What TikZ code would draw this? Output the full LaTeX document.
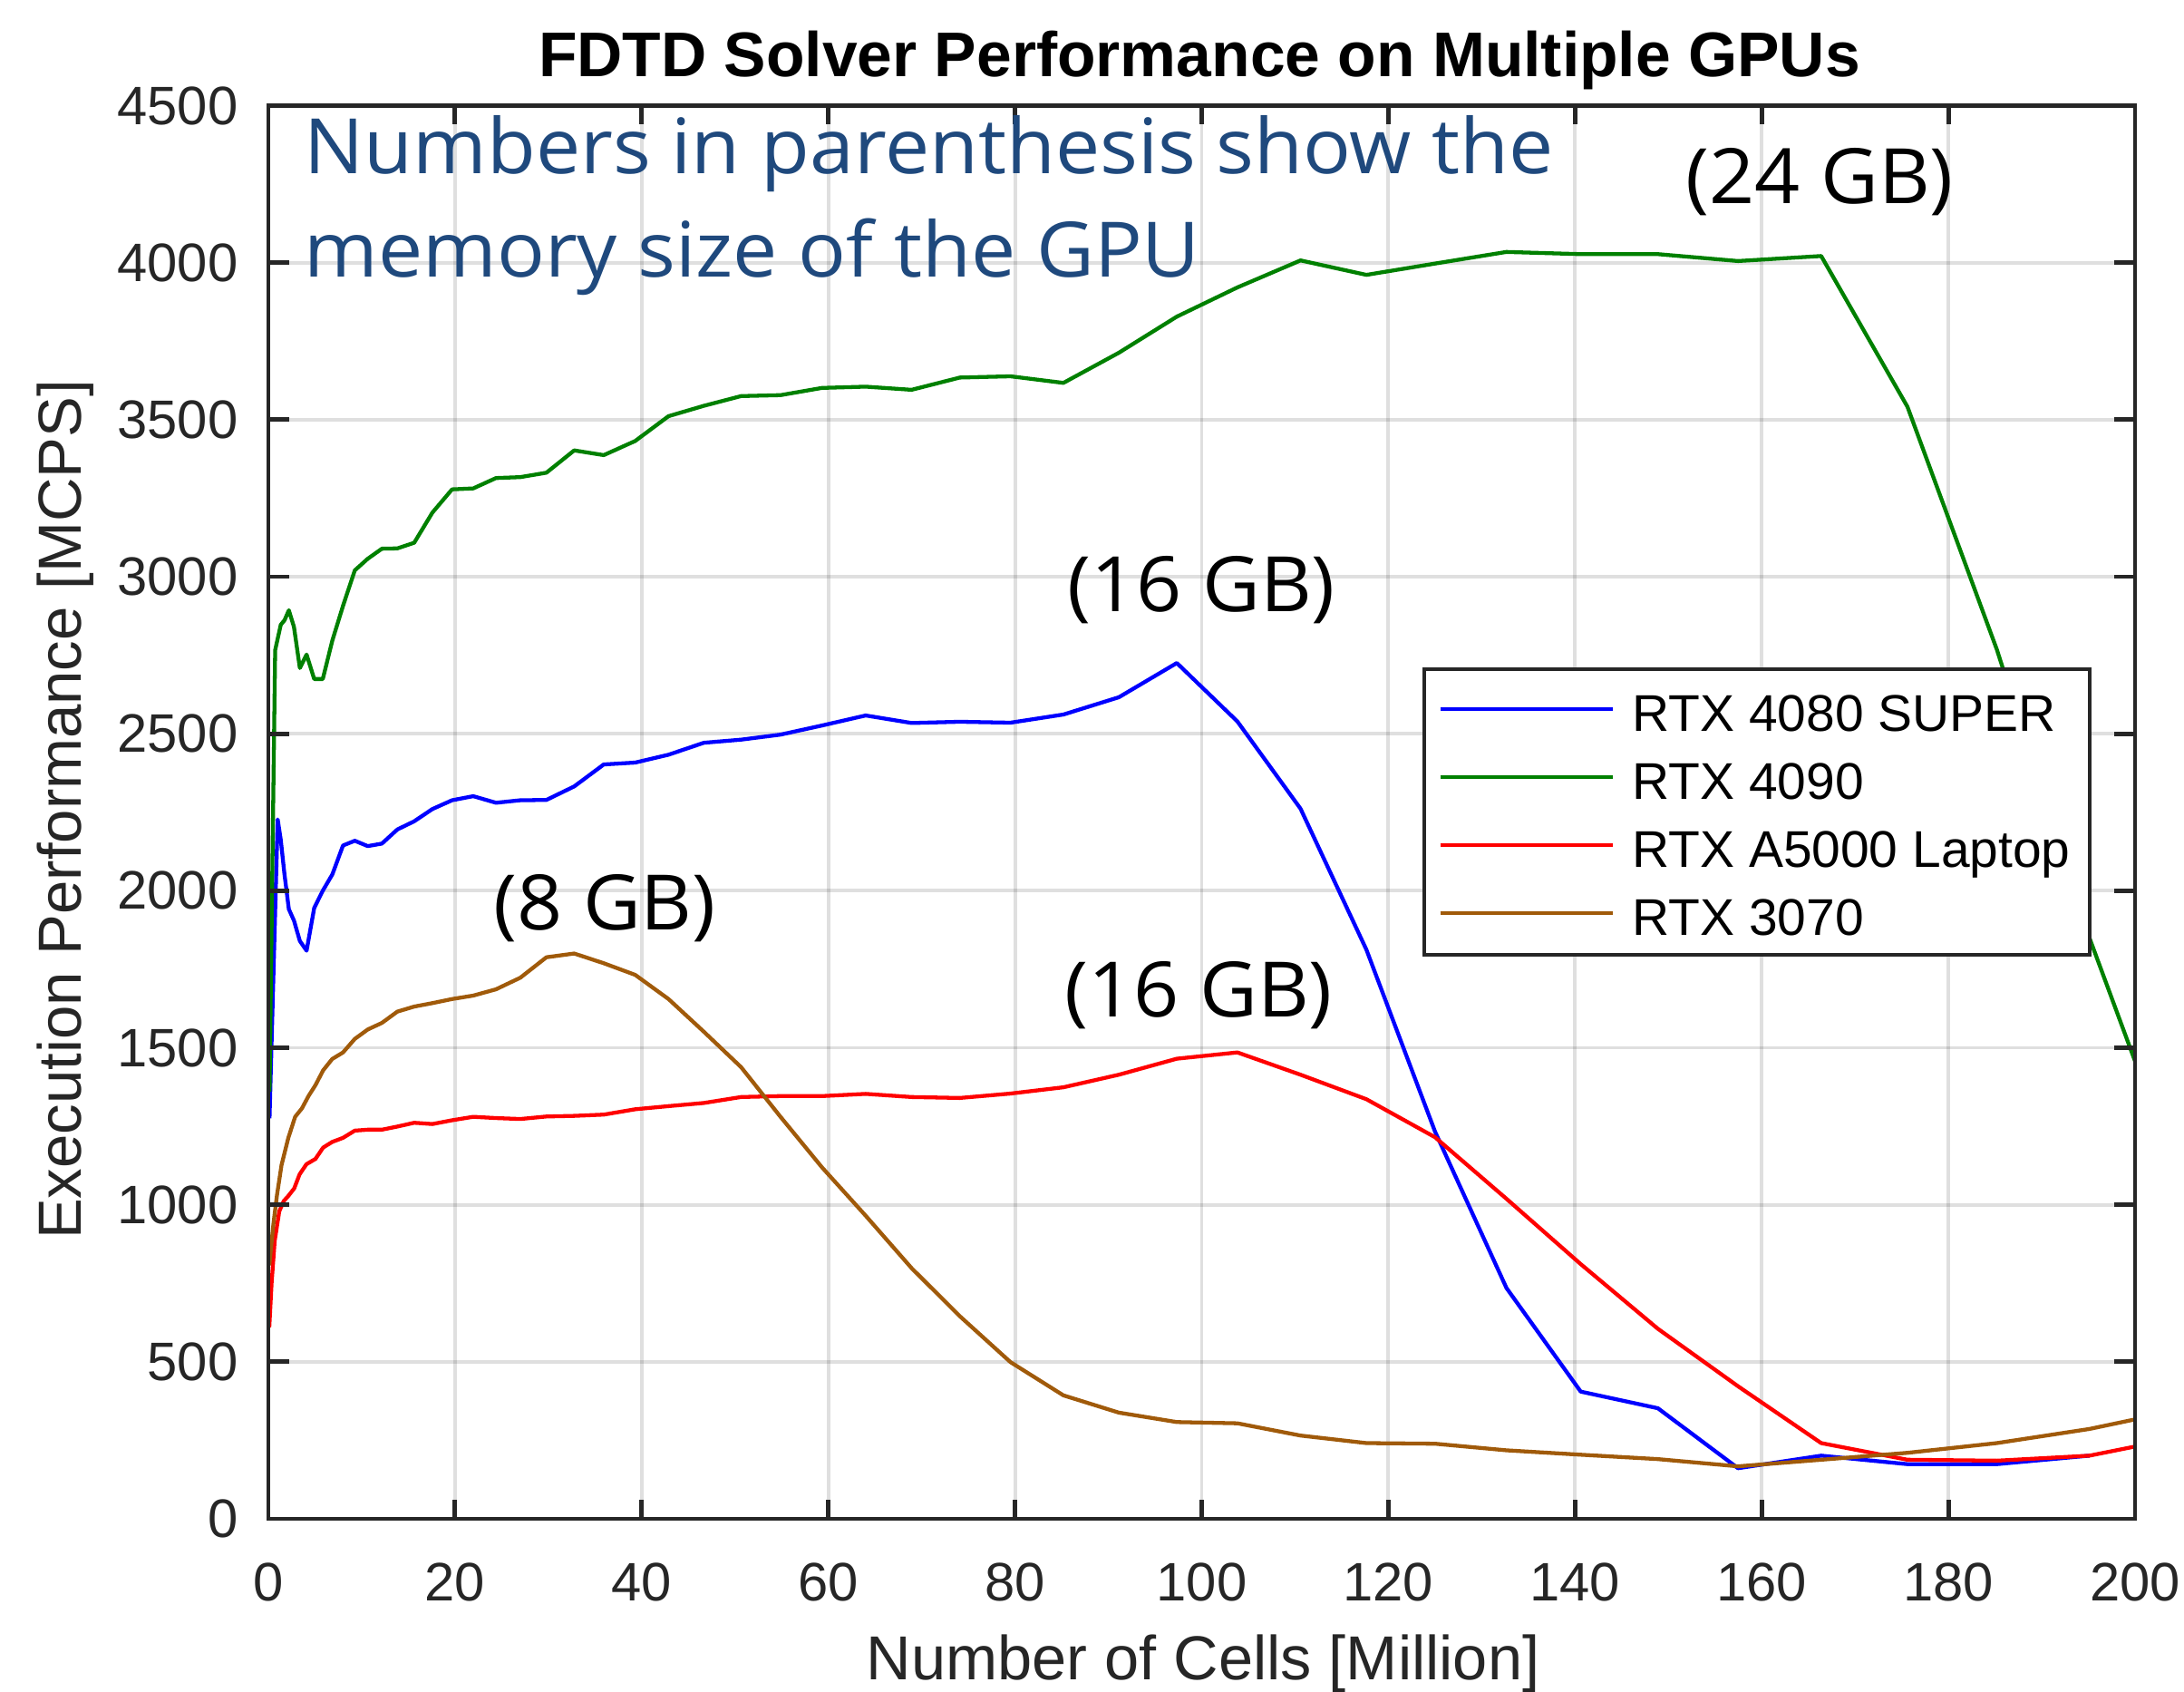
\documentclass[tikz,border=0pt]{standalone}
\usepackage{fontspec}
\setmainfont{Liberation Sans}
\newfontfamily\notefont{Open Sans}
\usetikzlibrary{calc,positioning}

\definecolor{axgray}{RGB}{38,38,38}
\definecolor{notecol}{RGB}{31,73,125}
\definecolor{c4080}{RGB}{0,0,255}
\definecolor{c4090}{RGB}{0,128,0}
\definecolor{cA5000}{RGB}{255,0,0}
\definecolor{c3070}{RGB}{160,90,10}

\newcommand{\widetext}[1]{\scalebox{1.04}[1]{#1}}

\begin{document}
\begin{tikzpicture}[
	gridline/.style={draw=black!85, draw opacity=0.15, line width=1.1pt},
	axisline/.style={draw=axgray, line width=1.4pt},
	curve/.style={line width=1.22pt, line join=round},
	ticklab/.style={text=axgray, inner sep=0pt, font=\fontsize{17}{20}\selectfont},
	axlab/.style={text=axgray, inner sep=0pt, font=\fontsize{19.5}{23}\selectfont},
	memlab/.style={inner sep=0pt, anchor=base, font=\notefont\fontsize{24}{29}\selectfont},
	notelab/.style={inner sep=0pt, anchor=base west, text=notecol, font=\notefont\fontsize{24}{29}\selectfont},
	legtext/.style={inner sep=0pt, anchor=base west, font=\fontsize{16.2}{19}\selectfont}]
	\useasboundingbox (0,0) rectangle (24.09,18.66);

	% axes in data units
	\begin{scope}[shift={(2.96,1.91)}, x=1.0295mm, y=0.034644mm]
	\foreach \x in {20,40,...,180} \draw[gridline] (\x,0)--(\x,4500);
	\foreach \y in {500,1000,...,4000} \draw[gridline] (0,\y)--(200,\y);

	\begin{scope}
	\clip (0,0) rectangle (200,4500);
	% RTX 4080 SUPER
	\draw[curve, c4080] plot coordinates {(0.125,1275) (1.0,2227) (1.331,2162) (1.728,2052) (2.197,1941) (2.744,1905) (3.375,1840) (4.096,1809) (4.913,1945) (5.832,2000) (6.859,2052) (8.0,2144) (9.261,2159) (10.648,2142) (12.167,2150) (13.824,2195) (15.625,2221) (17.576,2260) (19.683,2288) (21.952,2301) (24.389,2280) (27.0,2288) (29.791,2289) (32.768,2332) (35.937,2402) (39.304,2408) (42.875,2433) (46.656,2471) (50.653,2481) (54.872,2497) (59.319,2526) (64.0,2558) (68.921,2534) (74.088,2538) (79.507,2535) (85.184,2561) (91.125,2616) (97.336,2725) (103.823,2539) (110.592,2261) (117.649,1812) (125.0,1233) (132.651,735) (140.608,405) (148.877,352) (157.464,161) (166.375,201) (175.616,174) (185.193,174) (195.112,201)};
	% RTX 4090
	\draw[curve, c4090] plot coordinates {(0.125,1360) (0.729,2766) (1.331,2847) (1.728,2861) (2.197,2893) (2.744,2840) (3.375,2709) (4.096,2752) (4.913,2674) (5.832,2674) (6.859,2797) (8.0,2907) (9.261,3020) (10.648,3057) (12.167,3089) (13.824,3090) (15.625,3108) (17.576,3204) (19.683,3278) (21.952,3281) (24.389,3314) (27.0,3317) (29.791,3331) (32.768,3402) (35.937,3387) (39.304,3432) (42.875,3511) (46.656,3544) (50.653,3575) (54.872,3578) (59.319,3601) (64.0,3605) (68.921,3595) (74.088,3634) (79.507,3638) (85.184,3617) (91.125,3713) (97.336,3828) (103.823,3921) (110.592,4007) (117.649,3961) (125.0,3997) (132.651,4034) (140.608,4027) (148.877,4027) (157.464,4005) (166.375,4021) (175.616,3541) (185.193,2768) (195.112,1850) (205.379,1025)};
	% RTX A5000 Laptop
	\draw[curve, cA5000] plot coordinates {(0.1,610) (0.35,751) (0.68,885) (1.17,979) (1.65,1012) (2.14,1028) (2.77,1052) (3.35,1097) (4.08,1129) (5.05,1146) (5.87,1182) (6.84,1200) (8.0,1213) (9.261,1236) (10.648,1239) (12.167,1239) (13.824,1249) (15.625,1261) (17.576,1257) (19.683,1269) (21.952,1280) (24.389,1276) (27.0,1273) (29.791,1281) (32.768,1283) (35.937,1287) (39.304,1304) (42.875,1314) (46.656,1324) (50.653,1343) (54.872,1346) (59.319,1346) (64.0,1353) (68.921,1343) (74.088,1340) (79.507,1354) (85.184,1374) (91.125,1414) (97.336,1465) (103.823,1485) (110.592,1414) (117.649,1336) (125.0,1215) (132.651,1019) (140.608,811) (148.877,605) (157.464,422) (166.375,241) (175.616,188) (185.193,185) (195.112,201) (205.379,262)};
	% RTX 3070
	\draw[curve, c3070] plot coordinates {(0.1,807) (0.54,938) (0.93,1032) (1.41,1126) (2.14,1213) (2.87,1280) (3.6,1307) (4.32,1347) (5.05,1381) (5.87,1428) (6.84,1464) (8.0,1485) (9.261,1528) (10.648,1558) (12.167,1579) (13.824,1615) (15.625,1631) (17.576,1642) (19.683,1655) (21.952,1666) (24.389,1686) (27.0,1723) (29.791,1788) (32.768,1800) (35.937,1769) (39.304,1732) (42.875,1655) (46.656,1551) (50.653,1438) (54.872,1280) (59.319,1119) (64.0,965) (68.921,798) (74.088,645) (79.507,499) (85.184,393) (91.125,338) (97.336,308) (103.823,304) (110.592,265) (117.649,241) (125.0,239) (132.651,218) (140.608,204) (148.877,190) (157.464,167) (166.375,188) (175.616,210) (185.193,241) (195.112,286) (205.379,350)};
	\end{scope}

	\draw[axisline] (0,0) rectangle (200,4500);
	\foreach \x in {0,20,...,200} {
		\draw[axisline] (\x,0)--++(0pt,0.21cm);
		\draw[axisline] (\x,4500)--++(0pt,-0.21cm);
		\node[ticklab, anchor=base, yshift=-0.905cm] (xt\x) at (\x,0) {\x};
	}
	\foreach \y in {0,500,...,4500} {
		\draw[axisline] (0,\y)--++(0.23cm,0pt);
		\draw[axisline] (200,\y)--++(-0.23cm,0pt);
		\node[ticklab, anchor=east, xshift=-0.33cm] (yt\y) at (0,\y) {\y};
	}
	\end{scope}

	\node[inner sep=0pt, anchor=base, font=\bfseries\fontsize{19.8}{23}\selectfont] (title) at (13.23,17.81) {FDTD Solver Performance on Multiple GPUs};
	\node[axlab, anchor=base] (xlabel) at (13.27,0.13) {Number of Cells [Million]};
	\node[axlab, anchor=base, rotate=90, font=\fontsize{19.1}{23}\selectfont] (ylabel) at (0.89,9.73) {Execution Performance [MCPS]};

	\node[notelab] (note1) at (3.35,16.74) {\widetext{Numbers in parenthesis show the}};
	\node[notelab] (note2) at ([yshift=-1.135cm]note1.base west) {\widetext{memory size of the GPU}};

	\node[memlab] (mem24) at (20.07,16.41) {\widetext{(24 GB)}};
	\node[memlab] (mem16a) at (13.25,11.91) {\widetext{(16 GB)}};
	\node[memlab] (mem16b) at (13.22,7.44) {\widetext{(16 GB)}};
	\node[memlab] (mem8) at (6.67,8.40) {\widetext{(8 GB)}};

	% legend
	\node[draw=axgray, line width=1.3pt, fill=white, inner sep=0pt, minimum width=7.34cm, minimum height=3.15cm] (legend) at (19.38,9.705) {};
	\foreach \col/\name [count=\i] in {c4080/RTX 4080 SUPER, c4090/RTX 4090, cA5000/RTX A5000 Laptop, c3070/RTX 3070} {
		\coordinate (ls\i) at ($(legend.north west)+(0.2,{-0.46-0.75*(\i-1)})$);
		\coordinate (le\i) at ($(ls\i)+(1.9,0)$);
		\draw[curve, \col] (ls\i)--(le\i);
		\node[legtext] (lt\i) at ($(ls\i)+(2.11,-0.25)$) {\name};
	}
\end{tikzpicture}
\end{document}
